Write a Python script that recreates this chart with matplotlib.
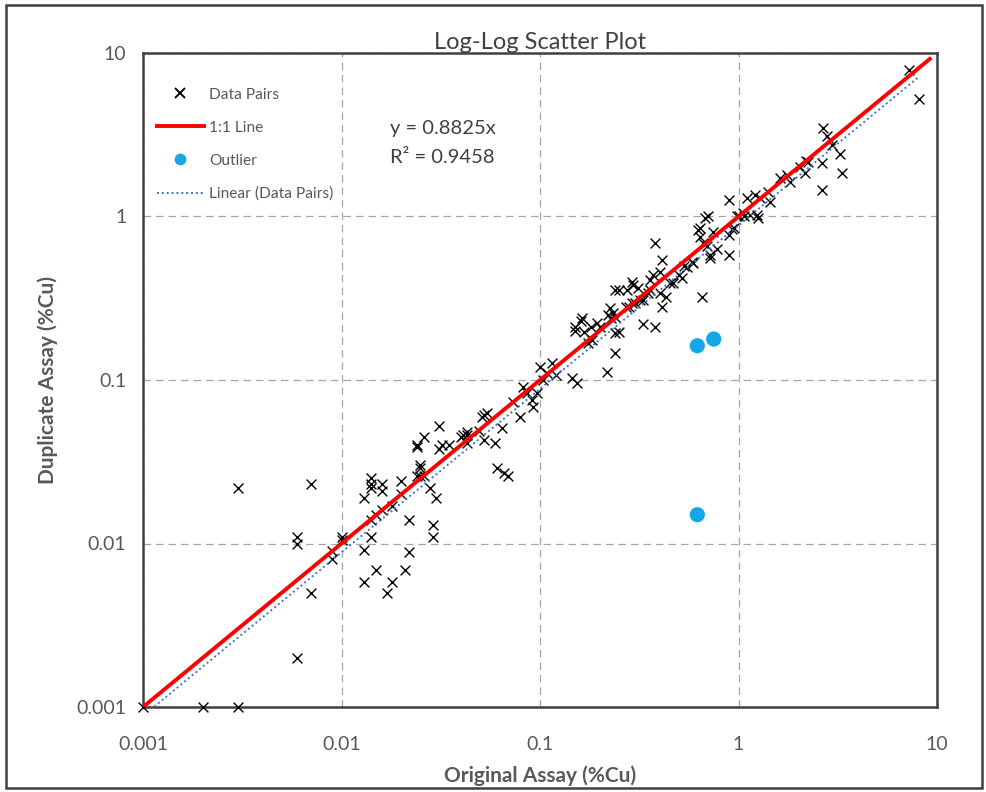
import matplotlib
matplotlib.use("Agg")
import matplotlib.pyplot as plt
import numpy as np
from matplotlib.lines import Line2D
from matplotlib.patches import Rectangle

plt.rcParams['font.family'] = ['Lato', 'DejaVu Sans']

title = "Log-Log Scatter Plot"
x_label = "Original Assay (%Cu)"
y_label = "Duplicate Assay (%Cu)"
tick_values = [0.001, 0.01, 0.1, 1, 10]
tick_labels = ["0.001", "0.01", "0.1", "1", "10"]

original = [
    0.001, 0.002, 0.003, 0.003, 0.007, 0.006, 0.006, 0.006, 0.007,
    0.009, 0.009, 0.010, 0.010,
    0.013, 0.014, 0.014, 0.014, 0.016, 0.016, 0.020, 0.020, 0.018, 0.016, 0.014, 0.015, 0.022,
    0.024, 0.026, 0.025, 0.025, 0.024, 0.026,
    0.014, 0.013, 0.022, 0.015, 0.013, 0.018, 0.021, 0.017,
    0.025, 0.028, 0.029, 0.029, 0.030, 0.031,
    0.024, 0.032, 0.035, 0.043, 0.052, 0.059, 0.051,
    0.049, 0.043, 0.041,
    0.031, 0.040, 0.043, 0.052, 0.054, 0.064, 0.073, 0.079, 0.082, 0.086, 0.092, 0.091, 0.097,
    0.061, 0.066, 0.069,
    0.10, 0.115, 0.108, 0.12, 0.104, 0.145, 0.153,
    0.175, 0.183, 0.15, 0.163, 0.167, 0.194, 0.20, 0.233, 0.227, 0.24, 0.24, 0.218,
    0.16, 0.18, 0.15, 0.225, 0.22, 0.24, 0.27, 0.29, 0.32, 0.35, 0.36, 0.29, 0.25, 0.45, 0.50, 0.53, 0.59, 0.25,
    0.24, 0.274, 0.294, 0.31, 0.28, 0.30, 0.33, 0.33, 0.38, 0.36, 0.37, 0.40, 0.41, 0.38, 0.43, 0.41, 0.40,
    0.47, 0.52, 0.55, 0.58, 0.655, 0.625, 0.68, 0.64, 0.66, 0.69, 0.72, 0.74, 0.78, 0.90, 0.93, 0.90,
    0.70, 0.64, 0.72,
    1.0, 1.07, 1.1, 0.98, 1.05, 1.14, 1.24, 1.25, 1.21, 1.28, 1.41, 1.44, 1.62, 1.75, 1.82,
    2.04, 2.16, 2.24, 2.63, 3.32, 2.63, 0.90, 0.95,
    7.2, 8.1, 2.67, 2.8, 2.9, 2.95, 3.25, 2.2,
]
duplicate = [
    0.001, 0.001, 0.001, 0.022, 0.023, 0.011, 0.010, 0.002, 0.005,
    0.009, 0.008, 0.011, 0.0105,
    0.019, 0.025, 0.023, 0.022, 0.023, 0.021, 0.024, 0.020, 0.017, 0.016, 0.014, 0.015, 0.014,
    0.039, 0.045, 0.030, 0.029, 0.026, 0.026,
    0.011, 0.0091, 0.0089, 0.0069, 0.0058, 0.0058, 0.0069, 0.005,
    0.026, 0.022, 0.013, 0.011, 0.019, 0.038,
    0.040, 0.040, 0.040, 0.041, 0.043, 0.041, 0.059,
    0.049, 0.048, 0.046,
    0.052, 0.045, 0.046, 0.061, 0.063, 0.051, 0.073, 0.059, 0.091, 0.083, 0.068, 0.075, 0.083,
    0.029, 0.027, 0.026,
    0.12, 0.127, 0.11, 0.107, 0.10, 0.103, 0.096,
    0.168, 0.176, 0.21, 0.24, 0.197, 0.223, 0.21, 0.257, 0.24, 0.195, 0.146, 0.112,
    0.23, 0.21, 0.20, 0.275, 0.25, 0.243, 0.28, 0.296, 0.31, 0.34, 0.41, 0.40, 0.355, 0.39, 0.44, 0.50, 0.52, 0.197,
    0.355, 0.355, 0.38, 0.365, 0.28, 0.295, 0.31, 0.22, 0.21, 0.355, 0.44, 0.46, 0.54, 0.69, 0.32, 0.28, 0.34,
    0.39, 0.42, 0.49, 0.53, 0.32, 0.83, 0.98, 0.75, 0.69, 0.66, 0.58, 0.80, 0.63, 0.58, 0.84, 1.26,
    1.0, 0.85, 0.56,
    1.0, 1.0, 1.3, 1.0, 1.05, 1.02, 1.02, 0.98, 1.35, 1.30, 1.41, 1.23, 1.72, 1.79, 1.63,
    2.01, 1.85, 2.15, 2.12, 1.85, 1.45, 0.77, 0.85,
    7.9, 5.2, 3.5, 3.1, 2.95, 2.75, 2.4, 2.2,
]

outlier_original = [0.62, 0.75, 0.62]
outlier_duplicate = [0.162, 0.178, 0.015]

trend_slope = 0.8825
r_squared = 0.9458
one_to_one_range = [0.001, 9.2]
trend_range = [0.001, 8.1]

fig = plt.figure(figsize=(9.86, 7.92), dpi=100)
ax = fig.add_axes([143/986, 1-707/792, (937-143)/986, (707-53)/792])

ax.set_xscale('log')
ax.set_yscale('log')
ax.set_xlim(0.001, 10)
ax.set_ylim(0.001, 10)

ax.grid(True, which='major', linestyle=(0, (6, 4)), color='#a6a6a6', linewidth=0.9)
ax.set_axisbelow(True)

ax.scatter(original, duplicate, marker='x', s=50, color='black', linewidths=1.0,
           clip_on=False, zorder=3, label='Data Pairs')
ax.plot(one_to_one_range, one_to_one_range, color='#ff0000', linewidth=2.8, zorder=4,
        label='1:1 Line')
ax.scatter(outlier_original, outlier_duplicate, marker='o', s=120, color='#14a8e8',
           zorder=5, label='Outlier', edgecolors='none')
tx = np.array(trend_range)
ax.plot(tx, trend_slope * tx, linestyle=(0, (1, 1.5)), color='#4472c4', linewidth=1.4,
        zorder=4, label='Linear (Data Pairs)')

ax.set_xticks(tick_values)
ax.set_xticklabels(tick_labels)
ax.set_yticks(tick_values)
ax.set_yticklabels(tick_labels)
ax.minorticks_off()
ax.tick_params(axis='both', length=0, labelsize=14, labelcolor='#595959')
ax.tick_params(axis='x', pad=21)
ax.tick_params(axis='y', pad=12)

for s in ax.spines.values():
    s.set_color('#404040')
    s.set_linewidth(1.8)

ax.set_xlabel(x_label, fontsize=15, fontweight='bold', color='#595959', labelpad=9)
ax.set_ylabel(y_label, fontsize=15, fontweight='bold', color='#595959', labelpad=13)
ax.set_title(title, fontsize=17, color='#404040', pad=3)

ax.text(0.311, 0.897, f"y = {trend_slope}x\nR\u00b2 = {r_squared}", transform=ax.transAxes,
        fontsize=14.5, color='#404040', va='top', ha='left', linespacing=1.85)

handles = [
    Line2D([], [], marker='x', linestyle='none', color='black', markersize=7.5, markeredgewidth=1.4),
    Line2D([], [], color='#ff0000', linewidth=2.8),
    Line2D([], [], marker='o', linestyle='none', color='#14a8e8', markersize=8.5, markeredgewidth=0),
    Line2D([], [], color='#4472c4', linestyle=(0, (1, 1.5)), linewidth=1.4),
]
labels = ['Data Pairs', '1:1 Line', 'Outlier', 'Linear (Data Pairs)']
leg = ax.legend(handles, labels, loc='upper left', bbox_to_anchor=(0.0, 0.968), frameon=False,
                fontsize=11.2, handlelength=3.0, labelspacing=1.22, handletextpad=0.35,
                labelcolor='#595959')

fig.patches.append(Rectangle((6/986, 4/792), 976/986, 783/792, transform=fig.transFigure,
                             fill=False, edgecolor='#404040', linewidth=1.8))

fig.savefig('out.png', dpi=100)
